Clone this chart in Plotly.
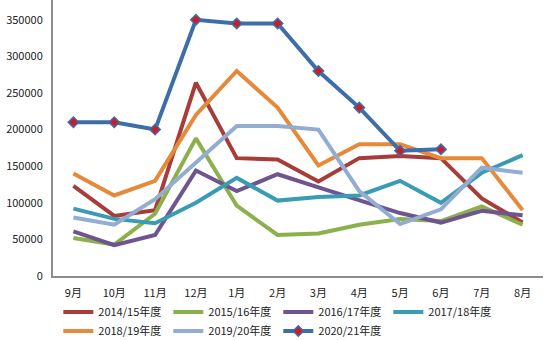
import plotly.graph_objects as go

months = ["9月", "10月", "11月", "12月", "1月", "2月", "3月", "4月", "5月", "6月", "7月", "8月"]
y_ticks = [0, 50000, 100000, 150000, 200000, 250000, 300000, 350000]

s2014 = [123000, 82000, 90000, 264000, 161000, 159000, 129000, 161000, 164000, 161000, 106000, 73000]
s2015 = [52000, 43000, 85000, 188000, 96000, 56000, 58000, 70000, 78000, 75000, 95000, 70000]
s2016 = [61000, 42000, 56000, 144000, 116000, 139000, 121000, 104000, 86000, 73000, 89000, 83000]
s2017 = [92000, 78000, 72000, 100000, 134000, 103000, 108000, 110000, 130000, 100000, 141000, 165000]
s2018 = [140000, 110000, 130000, 220000, 280000, 230000, 151000, 180000, 180000, 161000, 161000, 90000]
s2019 = [80000, 70000, 105000, 155000, 205000, 205000, 200000, 116000, 71000, 91000, 148000, 141000]
s2020 = [210000, 210000, 200000, 350000, 345000, 345000, 280000, 230000, 171000, 173000]

names = ["2014/15年度", "2015/16年度", "2016/17年度", "2017/18年度", "2018/19年度", "2019/20年度", "2020/21年度"]
colors = ["#A63D39", "#8AB14C", "#6F5490", "#3A9CB2", "#E5893A", "#93ACD2", "#3E6EA8"]
series = [s2014, s2015, s2016, s2017, s2018, s2019, s2020]

fig = go.Figure()
for name, col, vals in zip(names, colors, series):
    if name == "2020/21年度":
        fig.add_trace(go.Scatter(
            x=months[:len(vals)], y=vals, name=name, mode="lines+markers",
            line=dict(color=col, width=4),
            marker=dict(symbol="diamond", size=8, color="#C81E2C", line=dict(color=col, width=1.5)),
        ))
    else:
        fig.add_trace(go.Scatter(
            x=months[:len(vals)], y=vals, name=name, mode="lines",
            line=dict(color=col, width=4),
        ))

font_family = "Noto Sans CJK SC, DejaVu Sans, sans-serif"
fig.update_layout(
    width=550, height=340,
    margin=dict(l=53, r=7, t=0, b=64, autoexpand=False),
    paper_bgcolor="white", plot_bgcolor="white",
    font=dict(family=font_family, size=11, color="#222222"),
    showlegend=True,
    legend=dict(
        orientation="h", xref="container", yref="container",
        x=0.106, y=0.125, xanchor="left", yanchor="top",
        font=dict(size=11, color="#222222"),
        entrywidth=65, entrywidthmode="pixels",
        tracegroupgap=0, itemwidth=30,
        bgcolor="rgba(0,0,0,0)",
    ),
    xaxis=dict(
        type="category", categoryorder="array", categoryarray=months,
        range=[-0.5, 11.5],
        showline=True, linecolor="#8c8c8c", linewidth=2,
        showgrid=False, zeroline=False, ticks="", ticklabelstandoff=6,
        tickfont=dict(size=11),
    ),
    yaxis=dict(
        range=[0, 377000], tickvals=y_ticks, tickformat="d",
        showline=True, linecolor="#8c8c8c", linewidth=2,
        showgrid=False, zeroline=False, ticks="", ticklabelstandoff=6,
        tickfont=dict(size=11),
    ),
)

fig.write_html("out.html")
